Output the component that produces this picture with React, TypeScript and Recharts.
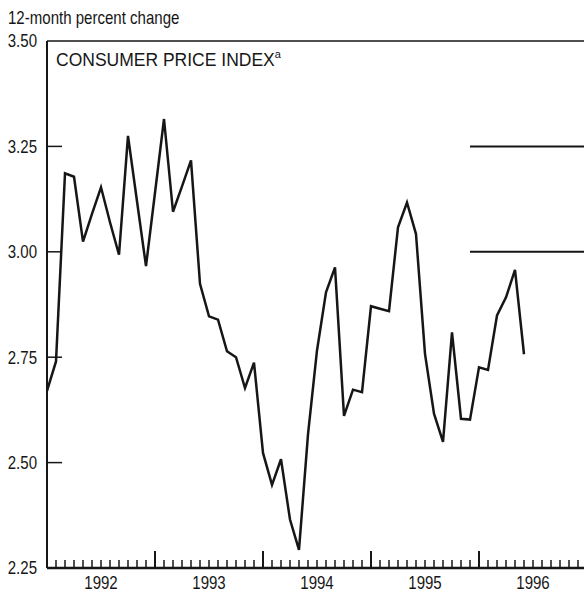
import React from "react";
import { LineChart, Line, XAxis, YAxis, ReferenceLine } from "recharts";

// Month index 0 = January 1992
const yearLabels = ["1992", "1993", "1994", "1995", "1996"];
const yearLabelMonths = [6, 18, 30, 42, 54];
const cpiValues = [
  2.67, 2.74, 3.186, 3.178, 3.024, 3.09, 3.153, 3.07, 2.993, 3.275, 3.12, 2.966,
  3.14, 3.315, 3.095, 3.155, 3.217, 2.924, 2.847, 2.839, 2.764, 2.75, 2.677, 2.737,
  2.523, 2.447, 2.508, 2.365, 2.293, 2.567, 2.766, 2.904, 2.963, 2.611, 2.673, 2.667,
  2.871, 2.865, 2.859, 3.058, 3.117, 3.042, 2.758, 2.616, 2.549, 2.809, 2.604, 2.602,
  2.726, 2.72, 2.849, 2.892, 2.957, 2.757,
];
const targetUpper = 3.25;
const targetLower = 3.0;
const targetMonths = [47, 60];
const yTicks = [2.25, 2.5, 2.75, 3.0, 3.25, 3.5];
const monthCount = 60;

const FONT = "'Liberation Sans', Arial, Helvetica, sans-serif";
const INK = "#161616";
const NARROW = 0.86;

const monthTicks = Array.from({ length: monthCount + 1 }, (_, i) => i);

const data = monthTicks.map((m) => ({
  m,
  cpi: m < cpiValues.length ? cpiValues[m] : null,
  upper: targetMonths.includes(m) ? targetUpper : null,
  lower: targetMonths.includes(m) ? targetLower : null,
}));

const NarrowText = ({ x, y, anchor, size, dy, children }: any) => (
  <text
    transform={`translate(${x},${y}) scale(${NARROW},1)`}
    textAnchor={anchor || "start"}
    dy={dy}
    fontFamily={FONT}
    fontSize={size}
    fill={INK}
  >
    {children}
  </text>
);

const XLabelTick = (props: any) => {
  const { x, y, payload } = props;
  const idx = yearLabelMonths.indexOf(payload.value);
  if (idx < 0) return <g />;
  return (
    <g>
      <NarrowText x={x} y={y + 21} anchor="middle" size={17.5}>
        {yearLabels[idx]}
      </NarrowText>
    </g>
  );
};

const YTick = (props: any) => {
  const { x, y, payload } = props;
  const v = payload.value as number;
  const edge = v === 3.5 || v === 2.25;
  return (
    <g>
      <NarrowText x={x} y={y} dy="0.36em" anchor="end" size={17.5}>
        {v.toFixed(2)}
      </NarrowText>
      {!edge && <line x1={x + 10} x2={x + 25} y1={y} y2={y} stroke={INK} strokeWidth={1.5} />}
    </g>
  );
};

const makeTickShape = (major: boolean) => (props: any) => {
  const { x1, x2, y1, y2 } = props;
  const bottom = Math.max(y1, y2);
  const len = major ? 17 : 8;
  return (
    <line
      x1={x1}
      x2={x2}
      y1={bottom}
      y2={bottom - len}
      stroke={INK}
      strokeWidth={major ? 2 : 1.5}
    />
  );
};
const majorShape = makeTickShape(true);
const minorShape = makeTickShape(false);

export default function App() {
  return (
    <div
      style={{
        position: "absolute",
        left: 0,
        top: 0,
        width: 584,
        height: 592,
        overflow: "hidden",
        background: "#fff",
      }}
    >
      <LineChart
        width={600}
        height={592}
        data={data}
        margin={{ top: 41, right: 13, bottom: 0, left: 0 }}
      >
        <XAxis
          dataKey="m"
          type="number"
          domain={[0, monthCount]}
          ticks={yearLabelMonths}
          interval={0}
          tickSize={0}
          tickMargin={0}
          height={24}
          tick={<XLabelTick />}
          tickLine={false}
          axisLine={{ stroke: INK, strokeWidth: 2.5 }}
        />
        <YAxis
          type="number"
          domain={[2.25, 3.5]}
          ticks={yTicks}
          interval={0}
          width={47}
          tickSize={0}
          tickMargin={10}
          tick={<YTick />}
          tickLine={false}
          axisLine={{ stroke: INK, strokeWidth: 2 }}
        />
        <ReferenceLine y={3.5} stroke={INK} strokeWidth={1.5} />
        {monthTicks
          .filter((m) => m > 0)
          .map((m) => (
            <ReferenceLine
              key={`t${m}`}
              x={m}
              stroke={INK}
              shape={m % 12 === 0 ? majorShape : minorShape}
            />
          ))}
        <Line
          dataKey="upper"
          stroke={INK}
          strokeWidth={2}
          dot={false}
          connectNulls
          isAnimationActive={false}
        />
        <Line
          dataKey="lower"
          stroke={INK}
          strokeWidth={2}
          dot={false}
          connectNulls
          isAnimationActive={false}
        />
        <Line
          dataKey="cpi"
          stroke={INK}
          strokeWidth={2.5}
          dot={false}
          isAnimationActive={false}
        />
      </LineChart>
      <svg
        width={584}
        height={592}
        style={{ position: "absolute", left: 0, top: 0, pointerEvents: "none" }}
      >
        <NarrowText x={8} y={24} size={17.5}>
          12-month percent change
        </NarrowText>
        <text x={56} y={66} fontFamily={FONT} fontSize={17.5} fill={INK}>
          CONSUMER PRICE INDEX
          <tspan dy={-8} fontSize={11}>a</tspan>
        </text>
      </svg>
    </div>
  );
}
